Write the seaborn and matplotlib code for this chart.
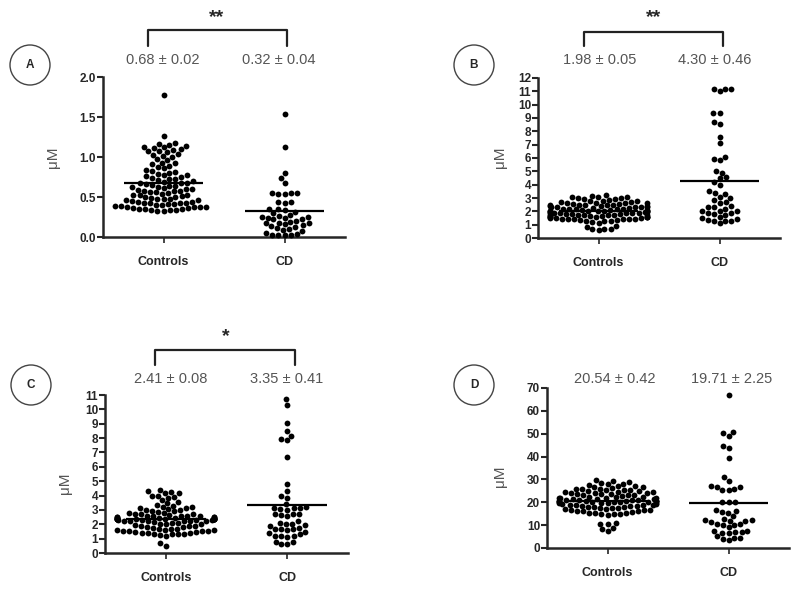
import warnings
import numpy as np
import pandas as pd
import matplotlib
matplotlib.use('Agg')
import matplotlib.pyplot as plt
from matplotlib.lines import Line2D
from matplotlib.patches import Ellipse
import seaborn as sns

warnings.filterwarnings('ignore')

groups = ['Controls', 'CD']

# --- panel A ---
controls_a = [1.78, 1.26,
              1.17, 1.16, 1.15, 1.14, 1.13, 1.12, 1.11, 1.10, 1.09, 1.08, 1.07, 1.06, 1.04, 1.03, 1.01, 1.00,
              0.98, 0.96, 0.93, 0.92, 0.91, 0.89, 0.87, 0.86,
              0.84, 0.83, 0.81, 0.80, 0.79, 0.78, 0.77, 0.76, 0.75, 0.74, 0.73, 0.72, 0.71, 0.70,
              0.69, 0.68, 0.68, 0.67, 0.66, 0.65, 0.64, 0.64, 0.63, 0.62,
              0.61, 0.60, 0.60, 0.59, 0.58, 0.58, 0.57, 0.56, 0.56, 0.55,
              0.54, 0.53, 0.53, 0.52, 0.51, 0.50, 0.50, 0.49, 0.48, 0.48,
              0.47, 0.46, 0.46, 0.45, 0.44, 0.44, 0.43, 0.43, 0.42, 0.42,
              0.41, 0.41, 0.40, 0.40, 0.39, 0.39, 0.38, 0.38, 0.37, 0.37,
              0.36, 0.36, 0.35, 0.35, 0.35, 0.34, 0.34, 0.34, 0.33, 0.33]
cd_a = [1.54, 1.12, 0.80, 0.74, 0.68, 0.55, 0.54, 0.55, 0.54, 0.55,
        0.44, 0.44, 0.43, 0.35, 0.35, 0.34, 0.31, 0.30,
        0.28, 0.26, 0.25, 0.25, 0.24, 0.24, 0.23, 0.22,
        0.20, 0.19, 0.18, 0.17, 0.17, 0.16, 0.15, 0.14,
        0.12, 0.11, 0.10, 0.09, 0.08, 0.05, 0.04, 0.03, 0.03, 0.02, 0.02]
stats_a = ['0.68 ± 0.02', '0.32 ± 0.04']

# --- panel B ---
controls_b = [3.2, 3.15, 3.1, 3.1, 3.05, 3.0, 3.0, 2.95,
              2.9, 2.85, 2.8, 2.8, 2.75, 2.7, 2.7, 2.65, 2.6, 2.6,
              2.55, 2.5, 2.5, 2.45, 2.4, 2.4, 2.35, 2.3, 2.3, 2.25, 2.2, 2.2,
              2.15, 2.1, 2.1, 2.05, 2.05, 2.0, 2.0, 2.0, 1.95, 1.95, 1.9, 1.9, 1.85, 1.85,
              1.8, 1.8, 1.75, 1.75, 1.7, 1.7, 1.65, 1.65, 1.6, 1.6, 1.55, 1.55, 1.5, 1.5,
              1.45, 1.45, 1.4, 1.4, 1.35, 1.3, 1.3, 1.25, 1.2, 1.15,
              0.9, 0.85, 0.7, 0.65, 0.6, 0.7,
              2.0, 2.05, 1.95, 2.1, 1.9, 2.15, 1.85, 2.2, 1.8, 2.25, 2.3, 1.75, 1.7,
              2.35, 2.4, 1.65, 2.45, 1.6, 2.5, 1.55, 2.55, 1.5, 2.6, 1.45, 1.35, 1.4]
cd_b = [11.2, 11.15, 11.0, 11.2, 9.4, 9.4, 8.7, 8.55, 7.55, 7.1,
        6.05, 5.95, 5.85, 5.0, 4.9, 4.55, 4.5, 4.2, 4.0,
        3.5, 3.4, 3.3, 3.1, 3.0, 2.85, 2.7, 2.65, 2.4, 2.35, 2.3, 2.2,
        2.05, 2.0, 2.0, 1.9, 1.85, 1.8, 1.75, 1.6, 1.5, 1.45,
        1.35, 1.3, 1.3, 1.25, 1.1]
stats_b = ['1.98 ± 0.05', '4.30 ± 0.46']

# --- panel C ---
controls_c = [4.4, 4.3, 4.25, 4.2, 4.2, 4.0, 4.0, 3.9, 3.85,
              3.7, 3.55, 3.45, 3.35, 3.3, 3.2, 3.2,
              3.15, 3.1, 3.05, 3.0, 3.0, 2.95, 2.9, 2.85, 2.8, 2.8, 2.75, 2.7, 2.7, 2.65, 2.6, 2.6,
              2.55, 2.5, 2.5, 2.45, 2.45, 2.4, 2.4, 2.4, 2.35, 2.35, 2.3, 2.3, 2.25, 2.25, 2.2, 2.2,
              2.15, 2.1, 2.1, 2.05, 2.0, 2.0, 1.95, 1.9, 1.9, 1.85, 1.8, 1.8, 1.75, 1.7, 1.7, 1.65,
              1.6, 1.6, 1.55, 1.5, 1.5, 1.45, 1.4, 1.4, 1.35, 1.3, 1.3, 1.25, 1.2,
              1.6, 1.5, 1.45, 1.4, 1.35,
              0.5, 0.7,
              2.4, 2.45, 2.35, 2.5, 2.3, 2.55, 2.25, 2.6, 2.2, 2.4, 2.45, 2.35, 2.5, 2.3, 2.4, 2.4]
cd_c = [10.7, 10.3, 9.05, 8.5, 8.15, 7.95, 7.85, 6.65, 4.8, 4.35, 3.95, 3.85, 3.4,
        3.2, 3.15, 3.1, 3.1, 3.05, 3.0, 2.75, 2.7, 2.7, 2.65, 2.55,
        2.2, 2.1, 2.05, 2.0, 1.95, 1.9, 1.75, 1.7, 1.7, 1.65, 1.6,
        1.45, 1.4, 1.3, 1.2, 1.15, 1.15, 1.1, 0.8, 0.75, 0.6, 0.6]
stats_c = ['2.41 ± 0.08', '3.35 ± 0.41']

# --- panel D ---
controls_d = [29.7, 29.4, 28.8, 28.5, 28.2, 28.0, 27.6, 27.3, 27.0, 26.8,
              26.5, 26.2, 26.0, 25.7, 25.5, 25.2, 25.0, 24.7, 24.5, 24.2,
              24.0, 23.7, 23.5, 23.2, 23.0, 22.8, 22.5, 22.3, 22.0, 21.8, 21.5, 21.3,
              21.0, 20.8, 20.6, 20.5, 20.3, 20.1, 20.0, 19.8, 19.6, 19.5, 19.3, 19.1,
              19.0, 18.8, 18.5, 18.3, 18.0, 17.8, 17.5, 17.3, 17.0, 16.8, 16.5, 16.3,
              16.0, 15.8, 15.5, 15.3, 15.0, 14.8, 14.5,
              10.9, 10.7, 10.5, 8.6, 8.3, 7.6,
              20.5, 21.0, 20.0, 21.5, 19.5, 22.0, 19.0, 22.5, 18.5, 23.0, 18.0, 23.5,
              17.5, 24.0, 17.0, 24.5, 16.5, 25.0, 16.0, 25.5, 15.5, 26.0, 15.0,
              20.5, 20.5, 21.0, 20.0, 22.0, 19.0, 20.5, 20.5]
cd_d = [66.9, 50.6, 50.3, 49.1, 44.6, 43.6, 39.2, 30.9, 29.3,
        27.1, 26.6, 26.5, 25.9, 25.3, 25.3, 20.3, 20.0, 20.0,
        16.6, 16.2, 15.9, 15.5, 14.0, 12.3, 12.2, 12.0, 11.3,
        10.5, 10.2, 10.0, 12.8, 9.3, 11.8, 10.6, 7.6, 7.0, 6.8, 6.7, 6.5,
        7.4, 5.3, 4.5, 4.2, 4.0, 3.3]
stats_d = ['20.54 ± 0.42', '19.71 ± 2.25']

letters = ['A', 'B', 'C', 'D']
stars = ['**', '**', '*', '']

sns.set_style('ticks')
plt.rcParams['font.family'] = ['Liberation Sans', 'DejaVu Sans']

W, H = 800, 594
fig = plt.figure(figsize=(W / 100, H / 100), dpi=100)


def fx(x):
    return x / W


def fy(y):
    return 1 - y / H


# layout in pixels
panels = [
    dict(ctrl=controls_a, cd=cd_a, stats=stats_a, box=(103, 77, 345, 237), ylim=(0, 2.0),
         yticks=[0.0, 0.5, 1.0, 1.5, 2.0], fmt='{:.1f}', circle=(30, 65), stat_x=(163, 279), stat_y=60,
         bracket=(148, 287, 30, 46), star=(217, 18), ylab=(53, 157)),
    dict(ctrl=controls_b, cd=cd_b, stats=stats_b, box=(538, 78, 780, 238), ylim=(0, 12),
         yticks=list(range(0, 13)), fmt='{:d}', circle=(474, 65), stat_x=(600, 715), stat_y=60,
         bracket=(584, 723, 32, 46), star=(654, 18), ylab=(500, 157)),
    dict(ctrl=controls_c, cd=cd_c, stats=stats_c, box=(105, 395, 348, 553), ylim=(0, 11),
         yticks=list(range(0, 12)), fmt='{:d}', circle=(31, 385), stat_x=(171, 287), stat_y=379,
         bracket=(155, 295, 350, 365), star=(226, 337), ylab=(65, 483)),
    dict(ctrl=controls_d, cd=cd_d, stats=stats_d, box=(547, 388, 789, 548), ylim=(0, 70),
         yticks=list(range(0, 71, 10)), fmt='{:d}', circle=(474, 385), stat_x=(615, 732), stat_y=379,
         bracket=None, star=None, ylab=(500, 476)),
]

for i, p in enumerate(panels):
    l, t, r, b = p['box']
    ax = fig.add_axes([fx(l), fy(b), (r - l) / W, (b - t) / H])

    df = pd.DataFrame({'group': ['Controls'] * len(p['ctrl']) + ['CD'] * len(p['cd']),
                       'value': p['ctrl'] + p['cd']})
    sns.swarmplot(data=df, x='group', y='value', order=groups, color='black',
                  size=4.2, linewidth=0, ax=ax)
    for coll in ax.collections:
        coll.set_clip_on(False)

    # mean lines
    for j, vals in enumerate([p['ctrl'], p['cd']]):
        ax.hlines(np.mean(vals), j - 0.33, j + 0.33, color='black', lw=1.6, zorder=3)

    ax.set_xlim(-0.5, 1.5)
    ax.set_ylim(*p['ylim'])
    ax.set_yticks(p['yticks'])
    ax.set_yticklabels([p['fmt'].format(v) for v in p['yticks']], fontweight='bold', fontsize=8.5)
    ax.set_xticks([0, 1])
    ax.set_xticklabels(groups, fontweight='bold', fontsize=9)
    ax.set_xlabel('')
    ax.set_ylabel('')
    sns.despine(ax=ax)
    for s in ['left', 'bottom']:
        ax.spines[s].set_linewidth(1.8)
    ax.tick_params(axis='y', length=4, width=1.5, pad=1)
    ax.tick_params(axis='x', length=4, width=1.2, pad=10)

    # y label
    fig.text(fx(p['ylab'][0]), fy(p['ylab'][1]), 'μM', rotation=90, ha='center', va='center',
             fontsize=11, color='#555555')

    # letter circle
    cx, cy = p['circle']
    fig.add_artist(Ellipse((fx(cx), fy(cy)), 40 / W, 40 / H, transform=fig.transFigure,
                           fill=False, edgecolor='#444444', lw=1.0))
    fig.text(fx(cx), fy(cy), letters[i], ha='center', va='center', fontweight='bold', fontsize=8.5)

    # mean +/- sem labels
    for sx, s in zip(p['stat_x'], p['stats']):
        fig.text(fx(sx), fy(p['stat_y']), s, ha='center', va='center', fontsize=10.5, color='#555555')

    # significance bracket
    if p['bracket'] is not None:
        x1, x2, yt, yb = p['bracket']
        fig.add_artist(Line2D([fx(x1), fx(x1), fx(x2), fx(x2)], [fy(yb), fy(yt), fy(yt), fy(yb)],
                              transform=fig.transFigure, color='#222222', lw=1.6))
        fig.text(fx(p['star'][0]), fy(p['star'][1]), stars[i], ha='center', va='center',
                 fontweight='bold', fontsize=14)

fig.savefig('out.png', dpi=100, facecolor='white')
